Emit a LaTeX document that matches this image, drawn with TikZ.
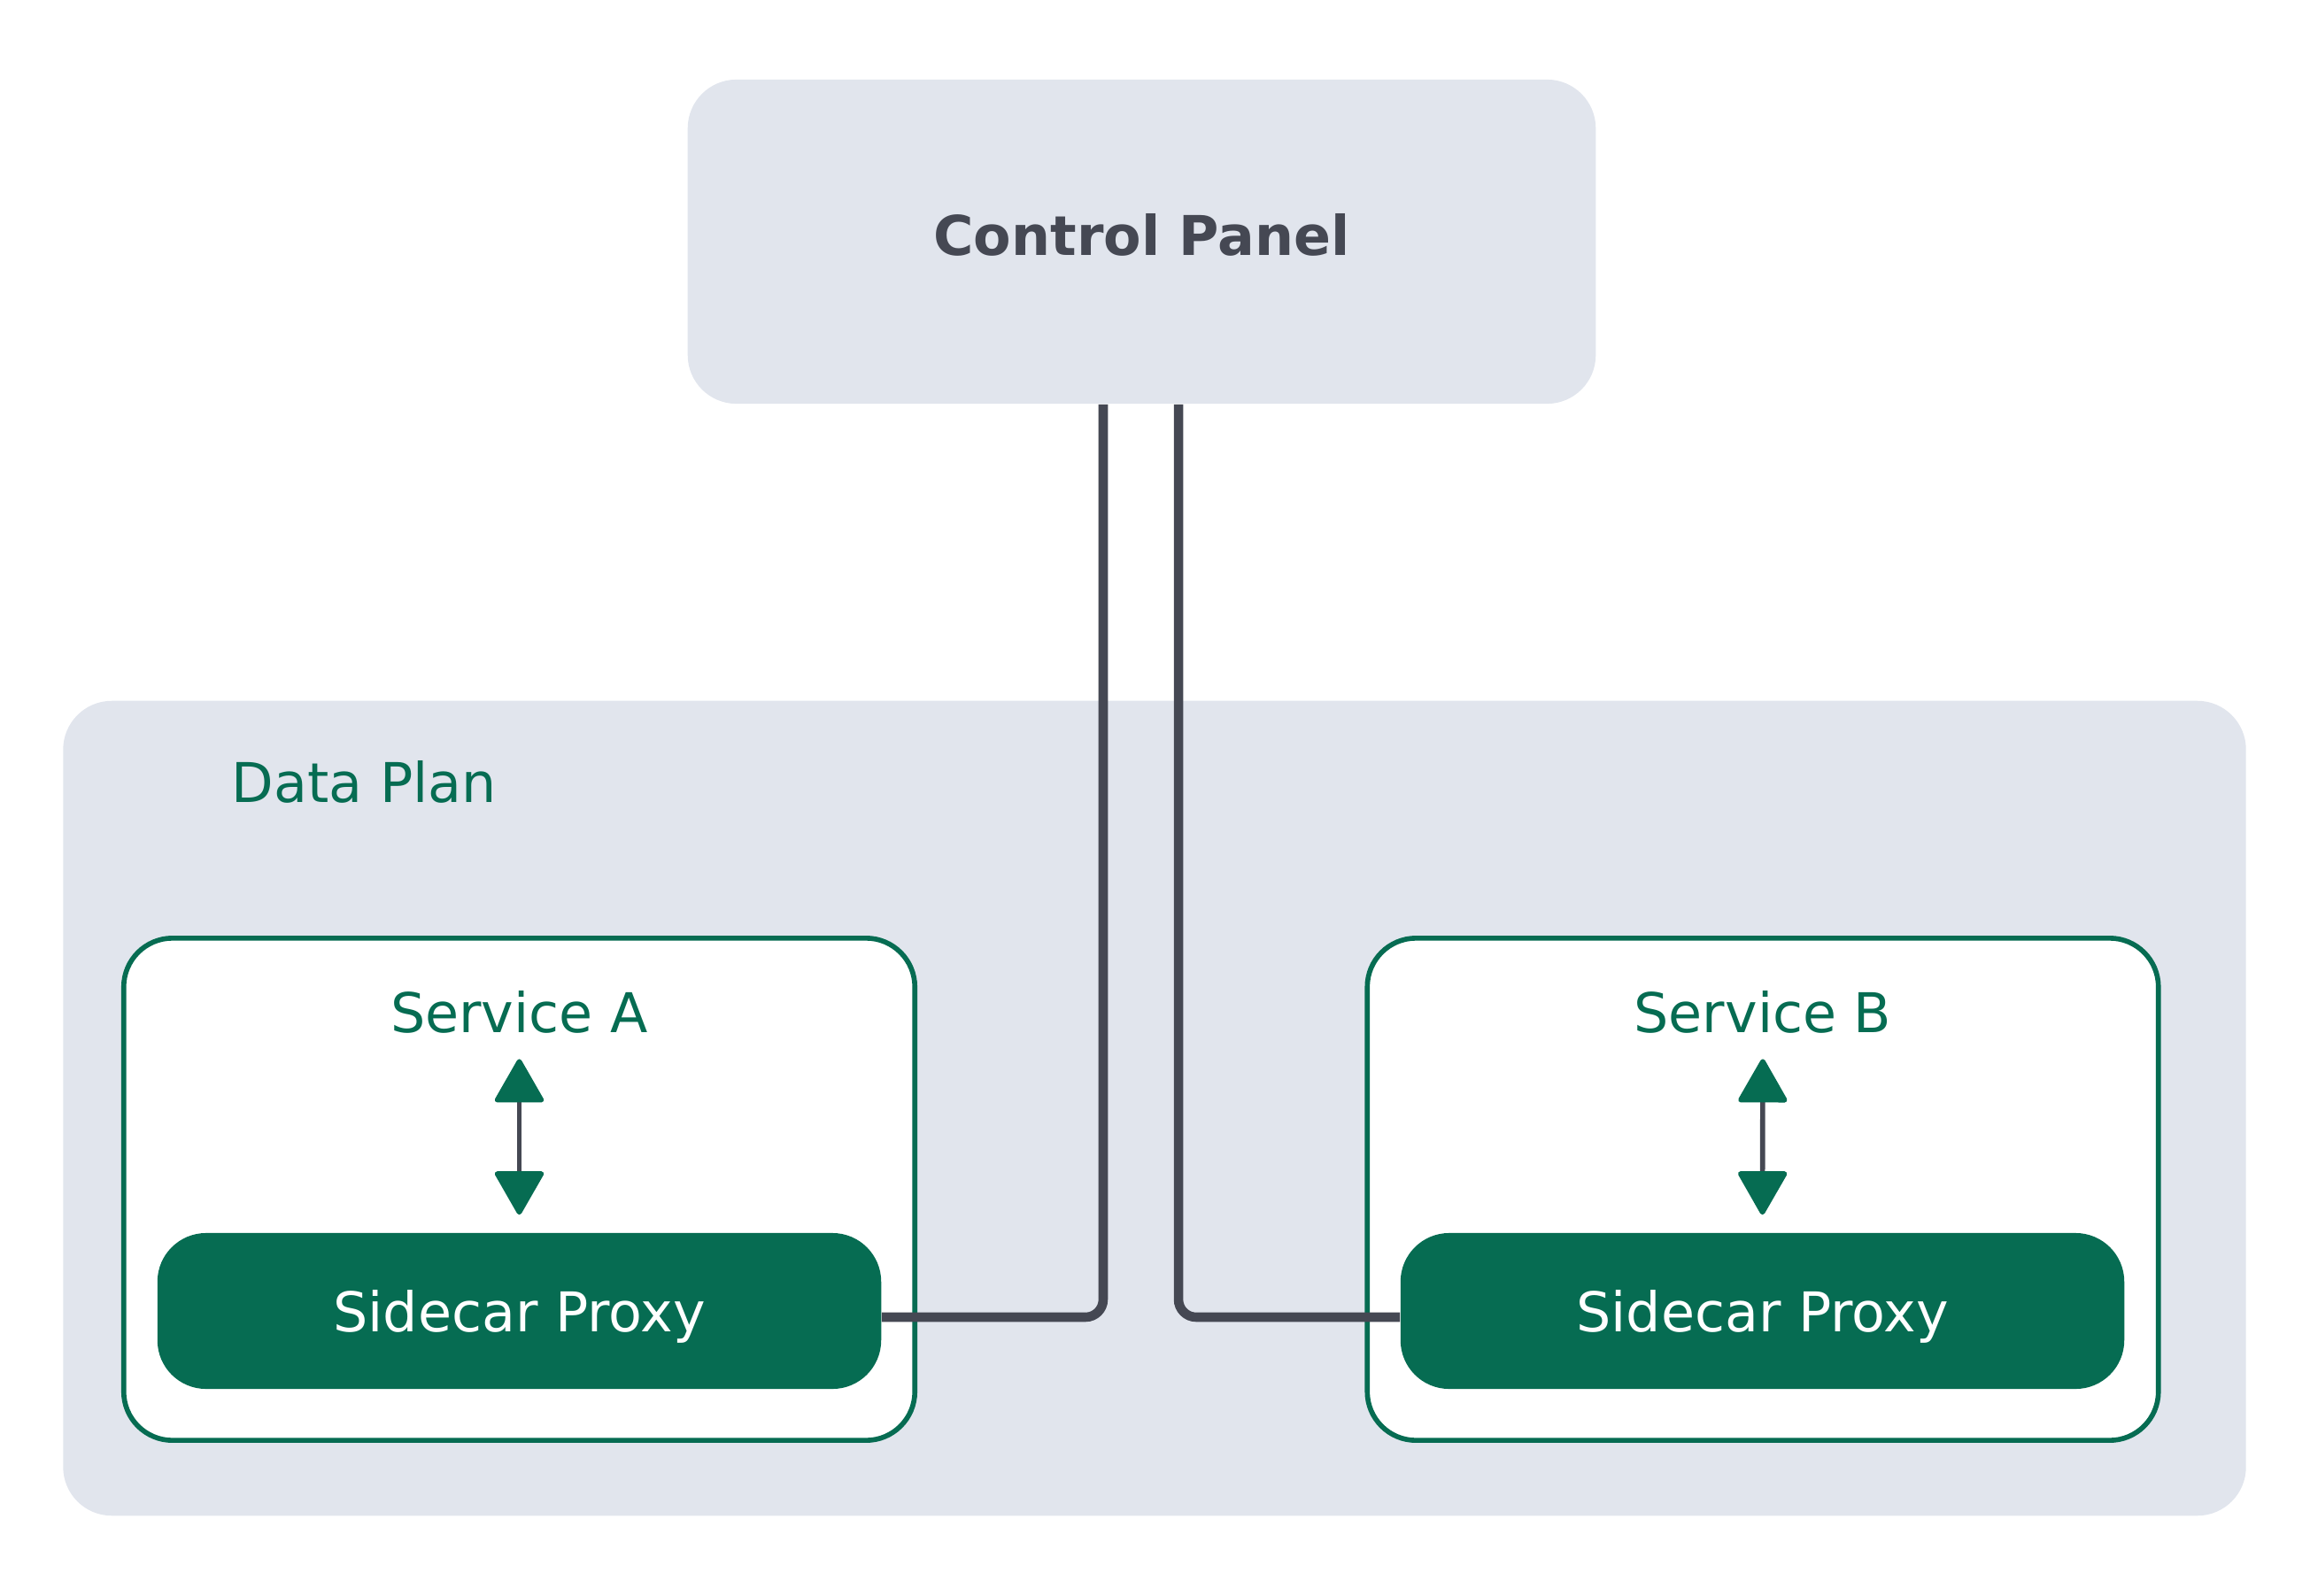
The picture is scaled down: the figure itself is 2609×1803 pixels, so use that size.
\documentclass[tikz,border=0pt]{standalone}
\usepackage{fontspec}
\setmainfont{DejaVu Sans}
\usetikzlibrary{arrows.meta,positioning}
\definecolor{panelgray}{HTML}{E1E5ED}
\definecolor{meshgreen}{HTML}{066C52}
\definecolor{wiregray}{HTML}{454853}

\begin{document}
\begin{tikzpicture}[x=0.01cm,y=-0.01cm,
  every node/.style={font=\fontsize{17.6pt}{21pt}\selectfont},
  plane/.style={rectangle,rounded corners=0.55cm,fill=panelgray,inner sep=0pt},
  service/.style={rectangle,rounded corners=0.55cm,draw=meshgreen,line width=1.6pt,fill=white,minimum width=8.93cm,minimum height=5.67cm},
  proxy/.style={rectangle,rounded corners=0.55cm,fill=meshgreen,text=white,text depth=0pt,minimum width=8.17cm,minimum height=1.76cm},
  caption/.style={text=meshgreen,inner sep=0pt},
  link/.style={draw=wiregray,line width=1.6pt,{Triangle[round,width=0.58cm,length=0.52cm,color=meshgreen]}-{Triangle[round,width=0.58cm,length=0.52cm,color=meshgreen]}},
  wire/.style={draw=wiregray,line width=3pt,rounded corners=0.2cm}]
\useasboundingbox (0,0) rectangle (2609,1803);

\node[plane,minimum width=24.64cm,minimum height=9.2cm](dp) at (1304,1252){};
\node[caption,anchor=west](dplab) at (261,883){Data Plan};
\node[plane,minimum width=10.25cm,minimum height=3.66cm,text=wiregray,text depth=0.16cm](cp) at (1289.5,273){\bfseries Control Panel};

\node[service](svcA) at (586.5,1343.5){};
\node[service](svcB) at (1991,1343.5){};
\node[caption,below=0.62cm of svcA.north](labA){Service A};
\node[caption,below=0.62cm of svcB.north](labB){Service B};
\node[proxy](proxyA) at (586.5,1481){Sidecar Proxy};
\node[proxy](proxyB) at (1990.5,1481){Sidecar Proxy};

\draw[link,shorten <=0.28cm,shorten >=0.2cm] (labA.south) -- (proxyA.north);
\draw[link,shorten <=0.28cm,shorten >=0.2cm] (labB.south) -- (proxyB.north);

\draw[wire] ([xshift=-0.435cm]cp.south) |- ([yshift=-0.07cm]proxyA.east);
\draw[wire] ([xshift=0.415cm]cp.south) |- ([yshift=-0.07cm]proxyB.west);
\end{tikzpicture}
\end{document}
